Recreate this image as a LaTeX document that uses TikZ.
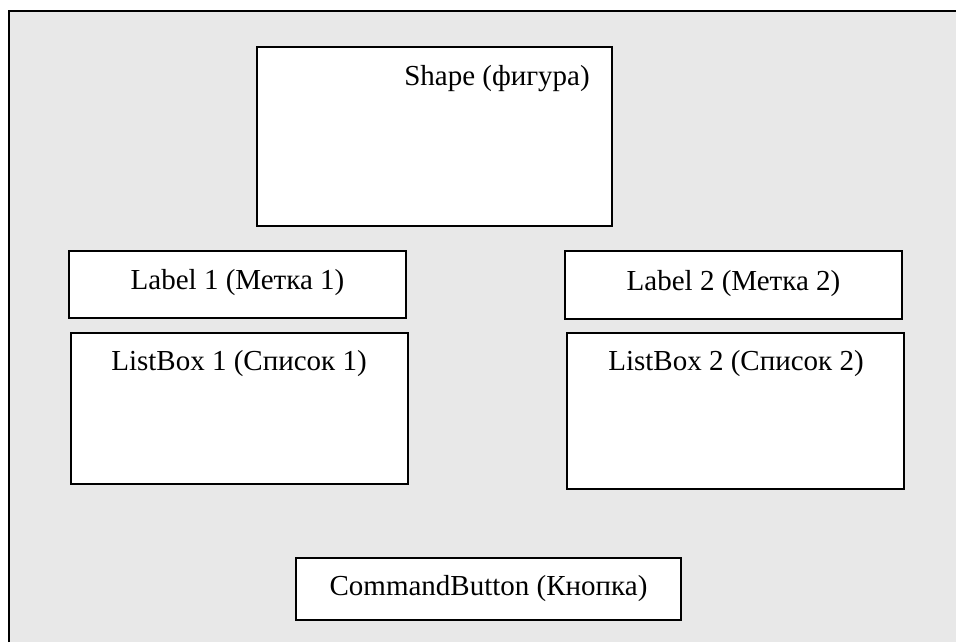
\documentclass[tikz,border=0pt]{standalone}
\usepackage{fontspec}
\setmainfont{Liberation Serif}
\usepackage{xcolor}
\usetikzlibrary{positioning}

\definecolor{formgray}{RGB}{232,232,232}

\tikzset{
  ctl/.style={draw=black, line width=1pt, fill=white, inner sep=0pt},
  ctltext/.style={anchor=base, inner sep=0pt, font=\fontsize{14.5}{17}\selectfont}
}

\begin{document}
\begin{tikzpicture}[x=0.5pt,y=-0.5pt]

\useasboundingbox (0,0) rectangle (956,642);

% Form area: grey fill, frame only on top and left
\fill[formgray] (9,11) rectangle (956,642);
\draw[line width=1pt] (9,642) -- (9,11) -- (956,11);

% Shape on top
\node[ctl, minimum width=177.5pt, minimum height=89.5pt] (shape) at (434.5,136.5) {};
\node[ctltext] (shapetxt) at (497,85) {Shape (фигура)};

% Left column: label and list
\node[ctl, minimum width=168.5pt, minimum height=33.5pt] (label1) at (237.5,284.5) {};
\node[ctltext] (label1txt) at (237.5,289) {Label 1 (Метка 1)};
\node[ctl, minimum width=168.5pt, minimum height=75.5pt] (list1) at (239.5,408.5) {};
\node[ctltext] (list1txt) at (239,370) {ListBox 1 (Список 1)};

% Right column: label and list
\node[ctl, minimum width=168.5pt, minimum height=34pt] (label2) at (733.5,285) {};
\node[ctltext] (label2txt) at (733.5,290) {Label 2 (Метка 2)};
\node[ctl, minimum width=168.5pt, minimum height=78pt] (list2) at (735.5,411) {};
\node[ctltext] (list2txt) at (736,370) {ListBox 2 (Список 2)};

% Button at the bottom
\node[ctl, minimum width=192.5pt, minimum height=31pt] (button) at (488.5,589) {};
\node[ctltext] (buttontxt) at (488.5,595) {CommandButton (Кнопка)};

\end{tikzpicture}
\end{document}
